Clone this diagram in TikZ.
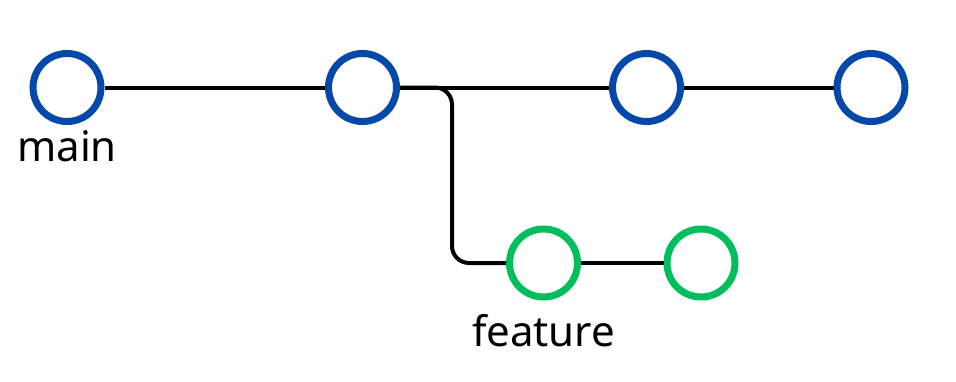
\documentclass[tikz,border=0pt]{standalone}
\usepackage{fontspec}
\setmainfont{Noto Sans}
\definecolor{cblue}{RGB}{4,72,170}
\definecolor{cgreen}{RGB}{0,190,92}
\begin{document}
\begin{tikzpicture}[x=1pt,y=-1pt,
  commit/.style={circle,draw=#1,line width=7pt,fill=white,minimum size=68pt,inner sep=0pt},
  link/.style={line width=4pt,black},
  lbl/.style={anchor=base,inner sep=0pt,font=\fontsize{42}{46}\selectfont}]
\useasboundingbox (0,0) rectangle (956,381);
\node[commit=cblue] (c1) at (67,87.5) {};
\node[commit=cblue] (c2) at (362.5,87.5) {};
\node[commit=cblue] (c3) at (646.5,87.5) {};
\node[commit=cblue] (c4) at (871,87.5) {};
\node[commit=cgreen] (g1) at (543.5,263) {};
\node[commit=cgreen] (g2) at (701,263) {};
\coordinate (k1) at (452,87.5);
\coordinate (k2) at (452,263);
\draw[link] (c1) -- (c2);
\draw[link] (c2) -- (c3);
\draw[link] (c3) -- (c4);
\draw[link,rounded corners=17pt] (c2.east) -- (k1) -- (k2) -- (g1.west);
\draw[link] (g1) -- (g2);
\node[lbl] (lmain) at (67,161.7) {main};
\node[lbl] (lfeat) at (543.5,346.7) {feature};
\end{tikzpicture}
\end{document}
